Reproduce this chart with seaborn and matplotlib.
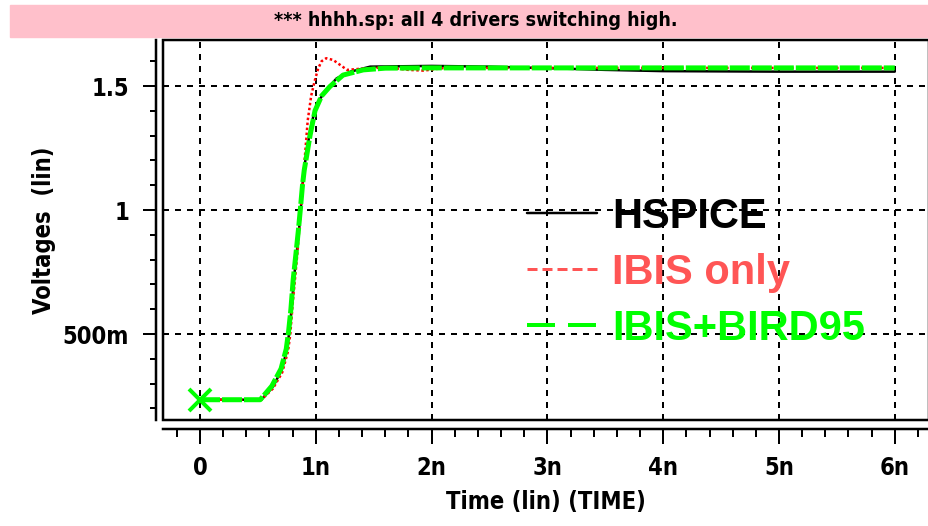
import numpy as np
import pandas as pd
import matplotlib
matplotlib.use("Agg")
import matplotlib.pyplot as plt
import seaborn as sns
from matplotlib.lines import Line2D
from matplotlib.patches import Rectangle
from matplotlib.ticker import MultipleLocator
from matplotlib import font_manager

# waveforms, time in ns, voltage in V
hspice_t = [0, 0.53, 0.63, 0.705, 0.75, 0.77, 0.79, 0.81, 0.835, 0.855, 0.87, 0.887, 0.9,
            0.95, 0.99, 1.02, 1.09, 1.18, 1.3, 1.47, 2.0, 2.5, 3.0, 3.5, 4.0, 5.0, 6.0]
hspice_v = [0.235, 0.235, 0.287, 0.355, 0.435, 0.504, 0.597, 0.718, 0.826, 0.919, 1.0, 1.109, 1.17,
            1.32, 1.40, 1.437, 1.484, 1.531, 1.558, 1.578, 1.581, 1.578, 1.572, 1.565, 1.56, 1.558, 1.558]

ibis_t = [0, 0.53, 0.63, 0.71, 0.76, 0.78, 0.80, 0.84, 0.87, 0.90, 0.93, 0.96, 0.99, 1.02,
          1.05, 1.09, 1.15, 1.21, 1.27, 1.4, 1.6, 1.8, 1.93, 2.1, 2.5, 3.0, 4.0, 5.0, 6.0]
ibis_v = [0.235, 0.235, 0.28, 0.345, 0.43, 0.50, 0.62, 0.82, 1.0, 1.18, 1.36, 1.46, 1.52, 1.57,
          1.60, 1.612, 1.605, 1.585, 1.565, 1.57, 1.575, 1.565, 1.562, 1.572, 1.573, 1.573, 1.573, 1.573, 1.573]

bird_t = [0, 0.52, 0.62, 0.70, 0.745, 0.765, 0.785, 0.805, 0.83, 0.85, 0.866, 0.885, 0.9,
          0.95, 0.993, 1.05, 1.12, 1.235, 1.41, 1.6, 2.0, 3.0, 4.0, 5.0, 6.0]
bird_v = [0.235, 0.235, 0.29, 0.36, 0.44, 0.51, 0.60, 0.72, 0.83, 0.92, 1.0, 1.10, 1.16,
          1.30, 1.40, 1.46, 1.497, 1.544, 1.565, 1.572, 1.573, 1.573, 1.573, 1.573, 1.573]

series_names = ["HSPICE", "IBIS only", "IBIS+BIRD95"]

x_ticks = [0, 1, 2, 3, 4, 5, 6]
x_labels = ["0", "1n", "2n", "3n", "4n", "5n", "6n"]
y_ticks = [0.5, 1.0, 1.5]
y_labels = ["500m", "1", "1.5"]

title = "*** hhhh.sp: all 4 drivers switching high."

sns.set_theme(style="white")
plt.rcParams["lines.scale_dashes"] = False
plt.rcParams["font.family"] = ["DejaVu Sans"]
plt.rcParams["text.color"] = "black"
plt.rcParams["axes.labelcolor"] = "black"
plt.rcParams["xtick.color"] = "black"
plt.rcParams["ytick.color"] = "black"

# narrow bold face for the axis text, like the HSPICE viewer
narrow = font_manager.FontProperties(family="DejaVu Sans", weight="bold", stretch="condensed", size=17)

W, H = 929, 526
fig = plt.figure(figsize=(W / 100, H / 100), dpi=100)
px = 72 / 100  # points per pixel

# pink title band
fig.patches.append(Rectangle((10 / W, 1 - 37 / H), 1 - 10 / W, 32 / H,
                             transform=fig.transFigure, color="#ffc0cb", zorder=0))
title_fp = narrow.copy()
title_fp.set_size(14)
fig.text(476 / W, 1 - 21 / H, title, ha="center", va="center",
         fontproperties=title_fp, color="black")

ax = fig.add_axes([163 / W, 1 - 420 / H, 1 - 163 / W, 380 / H])
ax.set_xlim((163 - 200) / 115.8, (929 - 200) / 115.8)
ax.set_ylim((458 - 420) / 248, (458 - 40) / 248)

sns.lineplot(x=hspice_t, y=hspice_v, ax=ax, color="black", lw=2.5 * px,
             estimator=None, sort=False, errorbar=None, zorder=3)
sns.lineplot(x=ibis_t, y=ibis_v, ax=ax, color="red", lw=2.5 * px,
             linestyle=(0, (2.5 * px, 2.5 * px)),
             estimator=None, sort=False, errorbar=None, zorder=4)
sns.lineplot(x=bird_t, y=bird_v, ax=ax, color="#00ff00", lw=5 * px,
             linestyle=(0, (20 * px, 2 * px)),
             estimator=None, sort=False, errorbar=None, zorder=5)
ax.plot(bird_t[0], bird_v[0], marker="x", color="#00ff00", ms=22 * px,
        mew=4 * px, zorder=6, clip_on=False)

# plot box
ax.add_patch(Rectangle((0, 0), 1, 1, transform=ax.transAxes, fill=False,
                       lw=2.5 * px, ec="black", clip_on=False, zorder=7))

for s in ["top", "right"]:
    ax.spines[s].set_visible(False)
ax.spines["bottom"].set_position(("outward", 9 * px))
ax.spines["left"].set_position(("outward", 7 * px))
for s in ["bottom", "left"]:
    ax.spines[s].set_linewidth(2.5 * px)
    ax.spines[s].set_color("black")

ax.set_xticks(x_ticks)
ax.set_xticklabels(x_labels)
ax.set_yticks(y_ticks)
ax.set_yticklabels(y_labels)
ax.xaxis.set_minor_locator(MultipleLocator(0.2))
ax.yaxis.set_minor_locator(MultipleLocator(0.1))
ax.tick_params(axis="x", which="major", direction="out", length=15 * px, width=2 * px,
               color="black", pad=12 * px, bottom=True)
ax.tick_params(axis="x", which="minor", direction="out", length=8 * px, width=2 * px,
               color="black", bottom=True)
ax.tick_params(axis="y", which="major", direction="out", length=13 * px, width=2 * px,
               color="black", pad=14 * px, left=True)
ax.tick_params(axis="y", which="minor", direction="out", length=6 * px, width=2 * px,
               color="black", left=True)
for lab in ax.get_xticklabels() + ax.get_yticklabels():
    lab.set_fontproperties(narrow)

ax.grid(True, which="major", color="black", lw=2 * px,
        linestyle=(0, (6 * px, 6 * px)))
ax.set_axisbelow(True)

ax.set_xlabel("Time (lin) (TIME)", fontproperties=narrow, labelpad=7)
ax.set_ylabel("Voltages  (lin)", fontproperties=narrow, labelpad=5)

handles = [
    Line2D([], [], color="black", lw=2.5 * px),
    Line2D([], [], color="#ff5555", lw=3 * px, linestyle=(0, (10 * px, 5 * px))),
    Line2D([], [], color="#00ff00", lw=4 * px, linestyle=(0, (28 * px, 13 * px))),
]
leg = ax.legend(handles, series_names, loc="upper left",
                bbox_to_anchor=(527 / W, 1 - 197 / H), bbox_transform=fig.transFigure,
                frameon=False, borderpad=0, borderaxespad=0, handlelength=1.68,
                handletextpad=0.36, labelspacing=0.38,
                prop={"family": ["Liberation Sans", "DejaVu Sans"], "weight": "bold", "size": 30})
for t, c in zip(leg.get_texts(), ["black", "#ff5555", "#00ff00"]):
    t.set_color(c)

fig.savefig("out.png", dpi=100)
